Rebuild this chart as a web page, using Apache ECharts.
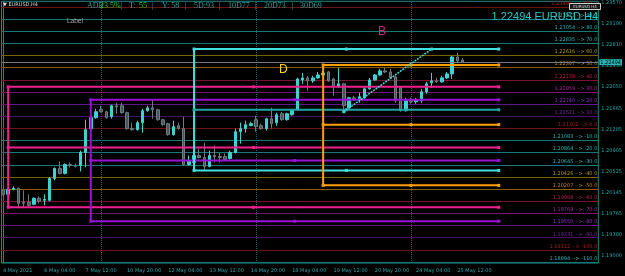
<!DOCTYPE html>
<html><head><meta charset="utf-8">
<script src="https://cdn.jsdelivr.net/npm/echarts@6/dist/echarts.min.js"></script>
<style>html,body{margin:0;padding:0;background:#000}#c{width:625px;height:276px}</style>
</head><body><div id="c"></div>
<script>
// ---- data ----
const timeTickIdx = [0,8,16,24,32,40,48,56,64,72,80,88];
const timeLabels = ['4 May 2021','6 May 04:00','7 May 12:00','10 May 20:00','12 May 04:00','13 May 12:00','14 May 20:00','18 May 04:00','19 May 12:00','20 May 20:00','24 May 04:00','25 May 12:00'];
const weekStartIdx = [19,49,79];
const priceTicks = [1.23570,1.23190,1.22810,1.22430,1.22050,1.21665,1.21285,1.20905,1.20525,1.20145,1.19765,1.19380,1.19000];

const opens  = [1.20185,1.20114,1.20203,1.20221,1.19970,1.19970,1.19934,1.20042,1.20006,1.20006,
1.20400,1.20580,1.20490,1.20651,1.20633,1.20633,1.20867,1.21297,1.21494,1.21638,
1.21602,1.21512,1.21709,1.21709,1.21584,1.21297,1.21279,1.21404,1.21620,1.21673,
1.21638,1.21458,1.21387,1.21189,1.21351,1.21297,1.20651,1.20687,1.20813,1.20777,
1.20616,1.20813,1.20795,1.20795,1.20759,1.20867,1.21243,1.21297,1.21351,1.21458,
1.21351,1.21297,1.21476,1.21404,1.21566,1.21458,1.21548,1.21638,1.22175,1.22211,
1.22158,1.22211,1.22265,1.22319,1.22193,1.22050,1.22104,1.21673,1.21853,1.21817,
1.21853,1.22014,1.22175,1.22265,1.22337,1.22319,1.22229,1.22032,1.21620,1.21799,
1.21781,1.21799,1.21960,1.22122,1.22158,1.22140,1.22211,1.22283,1.22588,1.22534];
const highs  = [1.20203,1.20221,1.20257,1.20239,1.20185,1.20114,1.20060,1.20078,1.20114,1.20418,
1.20598,1.20705,1.20669,1.20687,1.20669,1.20902,1.21458,1.21530,1.21655,1.21709,
1.21620,1.21727,1.21763,1.21763,1.21602,1.21404,1.21440,1.21655,1.21709,1.21817,
1.21655,1.21476,1.21404,1.21440,1.21404,1.21512,1.20813,1.20902,1.20938,1.21046,
1.20902,1.20992,1.20867,1.20849,1.20902,1.21297,1.21404,1.21440,1.21422,1.21530,
1.21387,1.21494,1.21673,1.21584,1.21602,1.21584,1.21655,1.22211,1.22301,1.22247,
1.22247,1.22319,1.22337,1.22337,1.22211,1.22391,1.22122,1.21871,1.21889,1.21942,
1.22050,1.22211,1.22283,1.22373,1.22391,1.22373,1.22247,1.22050,1.21853,1.21853,
1.21853,1.22014,1.22140,1.22301,1.22211,1.22247,1.22319,1.22606,1.22660,1.22570];
const lows   = [1.20096,1.20096,1.20185,1.19862,1.19880,1.19880,1.19916,1.19952,1.19916,1.19988,
1.20364,1.20472,1.20472,1.20598,1.20598,1.20526,1.20598,1.21261,1.21476,1.21584,
1.21476,1.21476,1.21566,1.21566,1.21279,1.21261,1.21261,1.21225,1.21602,1.21476,
1.21440,1.21351,1.21171,1.21171,1.21279,1.20633,1.20633,1.20633,1.20759,1.20544,
1.20598,1.20687,1.20687,1.20723,1.20741,1.20849,1.21028,1.21225,1.21351,1.21243,
1.21279,1.21261,1.21297,1.21351,1.21440,1.21440,1.21530,1.21620,1.22104,1.21978,
1.22122,1.22193,1.22247,1.22140,1.21889,1.22032,1.21584,1.21655,1.21799,1.21763,
1.21817,1.21996,1.22158,1.22247,1.22301,1.22193,1.21763,1.21602,1.21602,1.21745,
1.21745,1.21763,1.21924,1.22032,1.22122,1.22122,1.22193,1.22193,1.22480,1.22480];
const closes = [1.20114,1.20203,1.20221,1.19952,1.19952,1.19916,1.20042,1.19988,1.20024,1.20400,
1.20580,1.20490,1.20651,1.20633,1.20616,1.20867,1.21279,1.21494,1.21602,1.21602,
1.21494,1.21709,1.21691,1.21584,1.21297,1.21279,1.21404,1.21620,1.21673,1.21638,
1.21458,1.21369,1.21189,1.21333,1.21297,1.20651,1.20705,1.20813,1.20777,1.20616,
1.20813,1.20795,1.20777,1.20741,1.20867,1.21243,1.21297,1.21369,1.21387,1.21333,
1.21297,1.21476,1.21387,1.21548,1.21458,1.21566,1.21638,1.22193,1.22211,1.22158,
1.22211,1.22265,1.22301,1.22158,1.22050,1.22104,1.21709,1.21853,1.21817,1.21871,
1.22014,1.22175,1.22265,1.22337,1.22319,1.22211,1.21799,1.21620,1.21799,1.21781,
1.21817,1.21960,1.22104,1.22158,1.22140,1.22211,1.22283,1.22588,1.22516,1.22494];
const lastPrice = 1.22494;

const fibPrices = [1.23492,1.23273,1.23054,1.22835,1.22616,1.22397,1.22178,1.21959,1.21740,1.21521,1.21302,
1.21083,1.20864,1.20645,1.20426,1.20207,1.19988,1.19769,1.19550,1.19331,1.19112,1.18894];
const fibPct = ['100.0','90.0','80.0','70.0','60.0','50.0','40.0','30.0','20.0','10.0','0.0',
'-10.0','-20.0','-30.0','-40.0','-50.0','-60.0','-70.0','-80.0','-90.0','-100.0','-110.0'];

const bracketStartIdx = [1,17,37,62];
const bracketEndIdx = 96;
const bracketTop    = [1.22050,1.21817,1.22731,1.22444];
const bracketMid    = [1.20956,1.20723,1.21638,1.21369];
const bracketBottom = [1.19880,1.19629,1.20544,1.20275];
const trendFrom = [66,1.21602];
const trendTo   = [83,1.22731];

// ---- styles ----
const fibLineCol  = ['#6e1414','#157878','#157878','#157878','#776200','#8a5c00','#7a1232','#7a1268','#601684','#48126c'];
const fibLabelCol = ['#b01c1c','#2fb5b5','#2fb5b5','#2fb5b5','#b09a18','#c08a18','#c0204a','#b0289a','#9030c8','#7a2aa0'];
const bracketCol  = ['#f0208f','#9a10d8','#40e0e0','#ffa000'];
const bracketMidCol = ['#f0208f','#9a10d8','#1fa5a5','#ffa000'];

const chart = echarts.init(document.getElementById('c'), null, {renderer:'canvas'});
const teal = '#25a5a5';
const series = [];

series.push({
  type:'line', data:[], z:1, silent:true,
  markLine:{silent:true, symbol:'none', z:1, animation:false, precision:5,
    data: fibPrices.map((p,k)=>({yAxis:p,
      lineStyle:{color:fibLineCol[k%10], width:1, type:'solid'},
      label:{show:true, position:'insideEndTop', distance:[1,1],
        formatter: p.toFixed(5)+' --> '+fibPct[k], color:fibLabelCol[k%10], fontSize:5, fontFamily:'DejaVu Sans'}}))
  }
});
series.push({
  type:'line', data:[], z:1, silent:true,
  markLine:{silent:true, symbol:'none', z:1, animation:false, precision:5,
    data: weekStartIdx.map(x=>({xAxis:x, lineStyle:{color:'#1d6464', width:1, type:'dotted'}, label:{show:false}}))
  }
});
series.push({
  type:'candlestick', z:2, silent:true,
  data: opens.map((o,i)=>[i,o,closes[i],lows[i],highs[i]]),
  encode:{x:0, y:[1,2,3,4]},
  barWidth:3,
  itemStyle:{color:'#3cd2d2', color0:'#46575e', borderColor:'#3cd2d2', borderColor0:'#6b7c82', borderWidth:1}
});
series.push({
  type:'line', data:[], z:3, silent:true,
  markLine:{silent:true, symbol:'none', z:3, animation:false, precision:5,
    data:[{yAxis:lastPrice, lineStyle:{color:'#6c7c84', width:1, type:'solid'},
      label:{show:true, position:'end', distance:1, formatter:lastPrice.toFixed(5),
        backgroundColor:'#2ab4b4', color:'#000', fontSize:5, padding:[1,1,0,1], fontFamily:'DejaVu Sans'}}]
  }
});
bracketStartIdx.forEach((s,b)=>{
  const m = (s+bracketEndIdx)/2;
  [bracketTop[b], bracketMid[b], bracketBottom[b]].forEach((lv,j)=>{
    const c = j===1 ? bracketMidCol[b] : bracketCol[b];
    series.push({type:'line', z:4, silent:true, symbol:'rect', symbolSize:3, showSymbol:true,
      data:[[s,lv],[m,lv],[bracketEndIdx,lv]], lineStyle:{color:c, width:2}, itemStyle:{color:c}});
  });
  series.push({type:'line', z:4, silent:true, showSymbol:false,
    data:[[s,bracketTop[b]],[s,bracketBottom[b]]], lineStyle:{color:bracketCol[b], width:2}});
});
series.push({type:'line', z:5, silent:true, symbol:'rect', symbolSize:3,
  data:[trendFrom, trendTo], lineStyle:{color:'#3cd8d8', width:1.5, type:[2,1]}, itemStyle:{color:'#3cd8d8'}});

const tfont = 'Liberation Serif';
function T(x,y,text,fill,size,family,align){
  return {type:'text', x:x, y:y, silent:true, z:100,
    style:{text:text, fill:fill, fontSize:size, fontFamily:family||'Liberation Sans', textAlign:align||'left', textVerticalAlign:'middle'}};
}
const graphics = [
  T(3,5,'\u25BC EURUSD,H4','#d8d8d8',5,'DejaVu Sans'),
  T(87,5.5,'ADR','#2a9e9e',8,tfont),
  T(100,5.5,'23.5%','#22c822',8,tfont),
  T(121,5.5,'|','#2a9e9e',8,tfont),
  T(129,5.5,'T:','#2a9e9e',8,tfont),
  T(139,5.5,'55','#22c822',8,tfont),
  T(152,5.5,'|','#2a9e9e',8,tfont),
  T(162,5.5,'Y: 58','#2a9e9e',8,tfont),
  T(185,5.5,'|','#2a9e9e',8,tfont),
  T(194,5.5,'5D:93','#2a9e9e',8,tfont),
  T(219,5.5,'|','#2a9e9e',8,tfont),
  T(228,5.5,'10D77','#2a9e9e',8,tfont),
  T(255,5.5,'|','#2a9e9e',8,tfont),
  T(264,5.5,'20D73','#2a9e9e',8,tfont),
  T(292,5.5,'|','#2a9e9e',8,tfont),
  T(300,5.5,'30D69','#2a9e9e',8,tfont),
  T(67,21,'Label','#a8a8a8',6.5),
  T(378,32,'B','#e0207f',12),
  T(279,69.5,'D','#ffd700',12),
  T(598,17,'1.22494 EURUSD H4','#22c8c8',11,'Liberation Sans','right'),
  {type:'rect', z:100, silent:true, shape:{x:569.5,y:3.5,width:31,height:6}, style:{fill:'#1a1a1a', stroke:'#d0d0d0', lineWidth:1}},
  T(585,6.5,'EURUSD H4','#d0d0d0',4,'DejaVu Sans','center')
];

chart.setOption({
  animation:false,
  backgroundColor:'#000',
  textStyle:{fontFamily:'DejaVu Sans'},
  grid:{left:0, right:24, top:0, bottom:13, show:true, borderColor:'#1a8a8a', borderWidth:1, backgroundColor:'#000'},
  xAxis:{type:'value', min:-0.29, max:115.29,
    splitLine:{show:false}, axisLine:{show:false},
    axisTick:{show:false},
    axisLabel:{show:true, customValues:timeTickIdx, formatter:v=>timeLabels[timeTickIdx.indexOf(v)],
      color:teal, fontSize:5, align:'left', margin:5, fontFamily:'DejaVu Sans'}},
  yAxis:{type:'value', position:'right', min:1.18876, max:1.23592, scale:true,
    splitLine:{show:false}, axisLine:{show:true, lineStyle:{color:'#1a8a8a'}},
    axisTick:{show:false},
    axisLabel:{show:true, customValues:priceTicks, formatter:v=>v.toFixed(5), color:teal, fontSize:5, margin:3, fontFamily:'DejaVu Sans'}},
  series:series,
  graphic:graphics
});
</script>
</body></html>
